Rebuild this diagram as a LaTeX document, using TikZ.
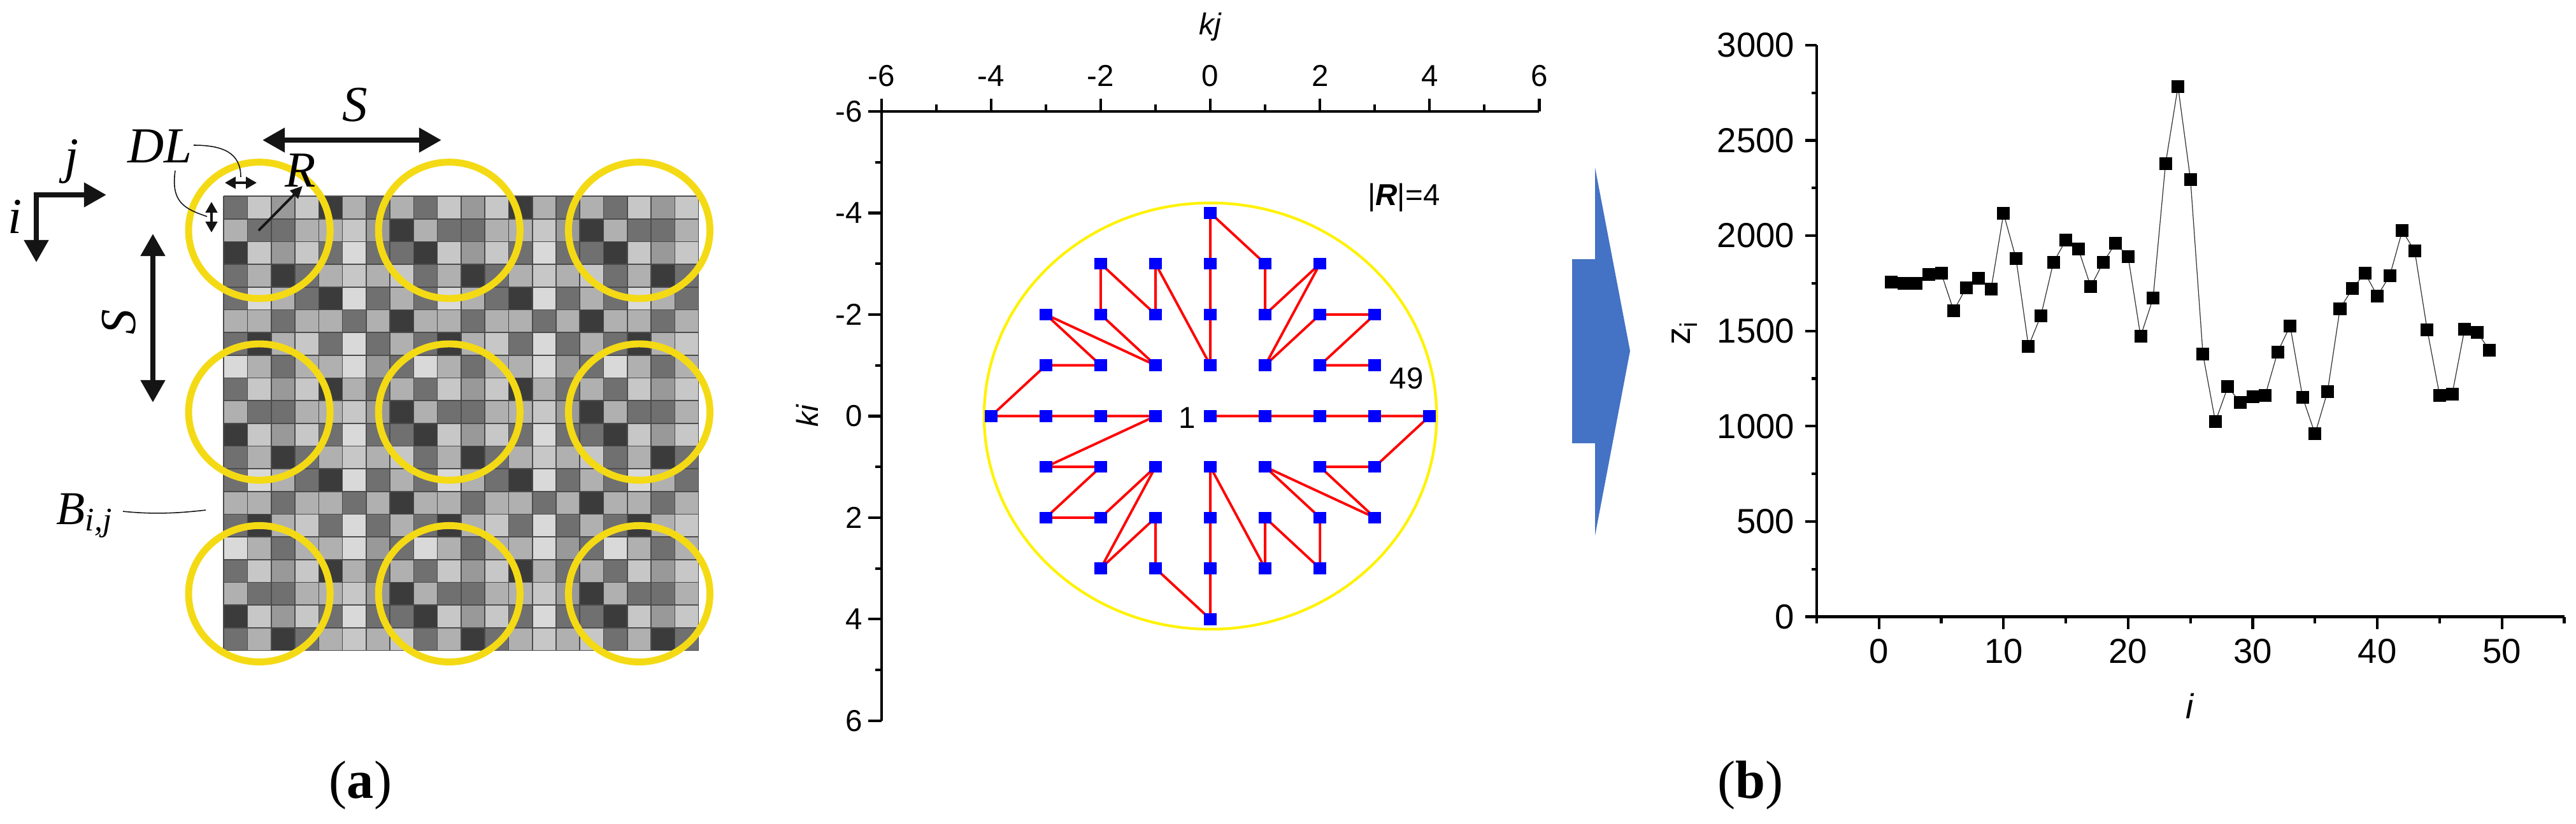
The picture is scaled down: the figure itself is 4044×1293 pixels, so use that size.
\documentclass[tikz,border=0pt]{standalone}
\usepackage{fontspec}
\setmainfont{Liberation Serif}
\newfontfamily\plotfont{Liberation Sans}
\usepackage{tikz}
\usetikzlibrary{arrows.meta}

\definecolor{gD}{gray}{0.23}
\definecolor{gM}{gray}{0.44}
\definecolor{gG}{gray}{0.60}
\definecolor{gL}{gray}{0.69}
\definecolor{gV}{gray}{0.78}
\definecolor{gW}{gray}{0.85}
\definecolor{ringyellow}{RGB}{244,218,21}
\definecolor{arrowblue}{RGB}{68,114,196}

\tikzset{
  lab/.style={font=\fontsize{22.5}{26}\selectfont\itshape, inner sep=0pt},
  ticklab/.style={font=\plotfont\fontsize{13.5}{16}\selectfont, inner sep=0pt},
  btick/.style={font=\plotfont\fontsize{15.5}{18}\selectfont, inner sep=0pt},
  fat/.style={line width=2.4pt, black!92, {Triangle[length=10pt,width=10.5pt]}-{Triangle[length=10pt,width=10.5pt]}},
  dlarr/.style={line width=1pt, black!92, {Triangle[length=4.8pt,width=5.2pt]}-{Triangle[length=4.8pt,width=5.2pt]}},
  leader/.style={line width=0.45pt, black!92},
  ring/.style={draw=ringyellow, line width=3.1pt},
  axline/.style={line width=1.2pt},
  bsq/.style={fill=blue, inner sep=0pt, minimum width=0.2cm, minimum height=0.185cm},
  ksq/.style={fill=black, inner sep=0pt, minimum size=0.2cm}
}

\begin{document}
\begin{tikzpicture}[x=0.01cm,y=-0.01cm]
\useasboundingbox (0,0) rectangle (4044,1293);

\begin{scope}[shift={(3.51cm,-3.08cm)},x=0.3725cm,y=-0.3565cm]
  \begin{scope}
    \clip (0,0) rectangle (20,20);
    \foreach \row [count=\r from 0] in {{M,V,G,V,D,L,M,L},{L,M,M,L,L,V,G,D},{D,V,G,V,M,W,M,M},{M,L,D,M,L,V,L,V},{M,W,L,M,D,W,M,L},{L,L,M,L,L,M,L,D},{M,D,L,V,M,W,M,L},{W,L,M,L,L,W,G,M}}
      \foreach \g [count=\c from 0] in \row
        \foreach \p in {0,8,16}
          \foreach \q in {0,8,16}
            \fill[g\g] (\c+\p,\r+\q) rectangle ++(1,1);
  \end{scope}
  \foreach \k in {0,...,20} {
    \draw[black!70, line width=0.45pt] (\k,0) -- (\k,20);
    \draw[black!70, line width=0.45pt] (0,\k) -- (20,\k);
  }
  \foreach \cx in {1.5,9.5,17.5}
    \foreach \cy in {1.5,9.5,17.5}
      \draw[ring] (\cx,\cy) ellipse [x radius=1.11cm, y radius=1.07cm];
\end{scope}

\coordinate (ijo) at (57,306);
\coordinate (jend) at (167,306);
\coordinate (iend) at (57,412);
\draw[fat, line join=miter] (iend) -- (ijo) -- (jend);
\node[lab] (jlab) at (112,254) {j};
\node[lab] (ilab) at (23,340) {i};
\node[lab] (dl) at (251,230) {DL};
\node[lab] (stop) at (557,165) {S};
\node[lab, rotate=90] (sleft) at (187,506) {S};
\node[lab] (rlab) at (472,268) {R};
\node[lab, font=\fontsize{21}{24}\selectfont\itshape, anchor=base west] (bij) at (88,823) {B\textsubscript{i,j}};

\coordinate (sl) at (412,220);
\coordinate (sr) at (693,220);
\draw[fat] (sl) -- (sr);
\coordinate (st) at (240,367);
\coordinate (sb) at (240,632);
\draw[fat] (st) -- (sb);
\coordinate (cen) at (406,362);
\coordinate (rtip) at (475,292);
\draw[line width=1.1pt, black!92, -{Triangle[length=5.5pt,width=5pt]}] (cen) -- (rtip);
\coordinate (dla) at (353,287);
\coordinate (dlb) at (403,287);
\draw[dlarr] (dla) -- (dlb);
\coordinate (dlc) at (332,317);
\coordinate (dld) at (332,365);
\draw[dlarr] (dlc) -- (dld);
\draw[leader] (304,228) .. controls (350,228) and (378,240) .. (378,278);
\draw[leader] (275,268) .. controls (268,318) and (290,328) .. (325,340);
\draw[leader] (193,803) .. controls (240,808) and (280,806) .. (323,801);

\begin{scope}[shift={(18.99cm,-6.53cm)},x=0.86cm,y=-0.797cm]
  \draw[yellow, line width=1.2pt] (0,0) ellipse [x radius=3.55cm, y radius=3.345cm];
  \draw[axline] (6,-6) -- (-6,-6) -- (-6,6);
  \foreach \t in {-6,-4,...,6} {
    \draw[axline] (\t,-6) -- ++(0pt,0.2cm);
    \draw[axline] (-6,\t) -- ++(-0.21cm,0pt);
    \node[ticklab, yshift=0.56cm] at (\t,-6) {\t};
    \node[ticklab, anchor=east, xshift=-0.29cm] at (-6,\t) {\t};
  }
  \foreach \t in {-5,-3,...,5} {
    \draw[axline] (\t,-6) -- ++(0pt,0.11cm);
    \draw[axline] (-6,\t) -- ++(-0.1cm,0pt);
  }
  \node[ticklab] (kj) at (0,-7.66) {\itshape kj};
  \node[ticklab, rotate=90] (ki) at (-7.35,0) {\itshape ki};
  \foreach \a/\b [count=\n] in {0/0,1/0,2/0,3/0,4/0,3/1,2/1,3/2,1/1,2/2,2/3,1/2,1/3,0/1,0/2,0/3,0/4,-1/3,-1/2,-2/3,-1/1,-2/2,-3/2,-2/1,-3/1,-1/0,-2/0,-3/0,-4/0,-3/-1,-2/-1,-3/-2,-1/-1,-2/-2,-2/-3,-1/-2,-1/-3,0/-1,0/-2,0/-3,0/-4,1/-3,1/-2,2/-3,1/-1,2/-2,3/-2,2/-1,3/-1}
    \coordinate (k\n) at (\a,\b);
  \draw[red, line width=1.1pt, line join=round] (k1) \foreach \n in {2,...,49} { -- (k\n) };
  \foreach \n in {1,...,49} \node[bsq] (q\n) at (k\n) {};
  \node[ticklab] (first) at (-0.42,0.04) {1};
  \node[ticklab] (last) at (3.58,-0.74) {49};
  \node[ticklab] (rnorm) at (3.53,-4.3) {|\textbf{\textit{R}}|=4};
\end{scope}

\fill[arrowblue] (2468,407) -- (2504,407) -- (2504,263) -- (2559,551) -- (2504,841) -- (2504,696) -- (2468,696) -- cycle;

\begin{scope}[shift={(29.48cm,-9.68cm)},x=0.1955cm,y=0.002997cm]
  \draw[axline] (55,0) -- (-5,0) -- (-5,3000);
  \foreach \t in {0,10,...,50} {
    \draw[axline] (\t,0) -- ++(0pt,-0.19cm);
    \node[btick, yshift=-0.54cm] at (\t,0) {\t};
  }
  \foreach \t in {-5,5,...,55} \draw[axline] (\t,0) -- ++(0pt,-0.1cm);
  \foreach \v in {0,500,...,3000} {
    \draw[axline] (-5,\v) -- ++(-0.18cm,0pt);
    \node[btick, anchor=east, xshift=-0.34cm] at (-5,\v) {\v};
  }
  \foreach \v in {250,750,...,2750} \draw[axline] (-5,\v) -- ++(-0.08cm,0pt);
  \foreach \v [count=\n] in {1758,1751,1751,1797,1803,1606,1728,1778,1721,2116,1880,1420,1581,1860,1976,1931,1732,1861,1961,1889,1472,1672,2378,2783,2295,1378,1024,1207,1125,1155,1162,1390,1527,1152,960,1182,1617,1722,1804,1684,1791,2026,1919,1506,1162,1167,1509,1494,1400}
    \coordinate (z\n) at (\n,\v);
  \draw[line width=0.35pt, black!80] (z1) \foreach \n in {2,...,49} { -- (z\n) };
  \foreach \n in {1,...,49} \node[ksq] (m\n) at (z\n) {};
  \node[btick, rotate=90] (zlab) at (-15.6,1490) {z\textsubscript{i}};
  \node[btick] (ilab2) at (24.96,-467) {\itshape i};
\end{scope}

\node[font=\fontsize{24}{28}\selectfont] (pa) at (566,1233) {(\textbf{a})};
\node[font=\fontsize{24}{28}\selectfont] (pb) at (2748,1233) {(\textbf{b})};
\end{tikzpicture}
\end{document}
